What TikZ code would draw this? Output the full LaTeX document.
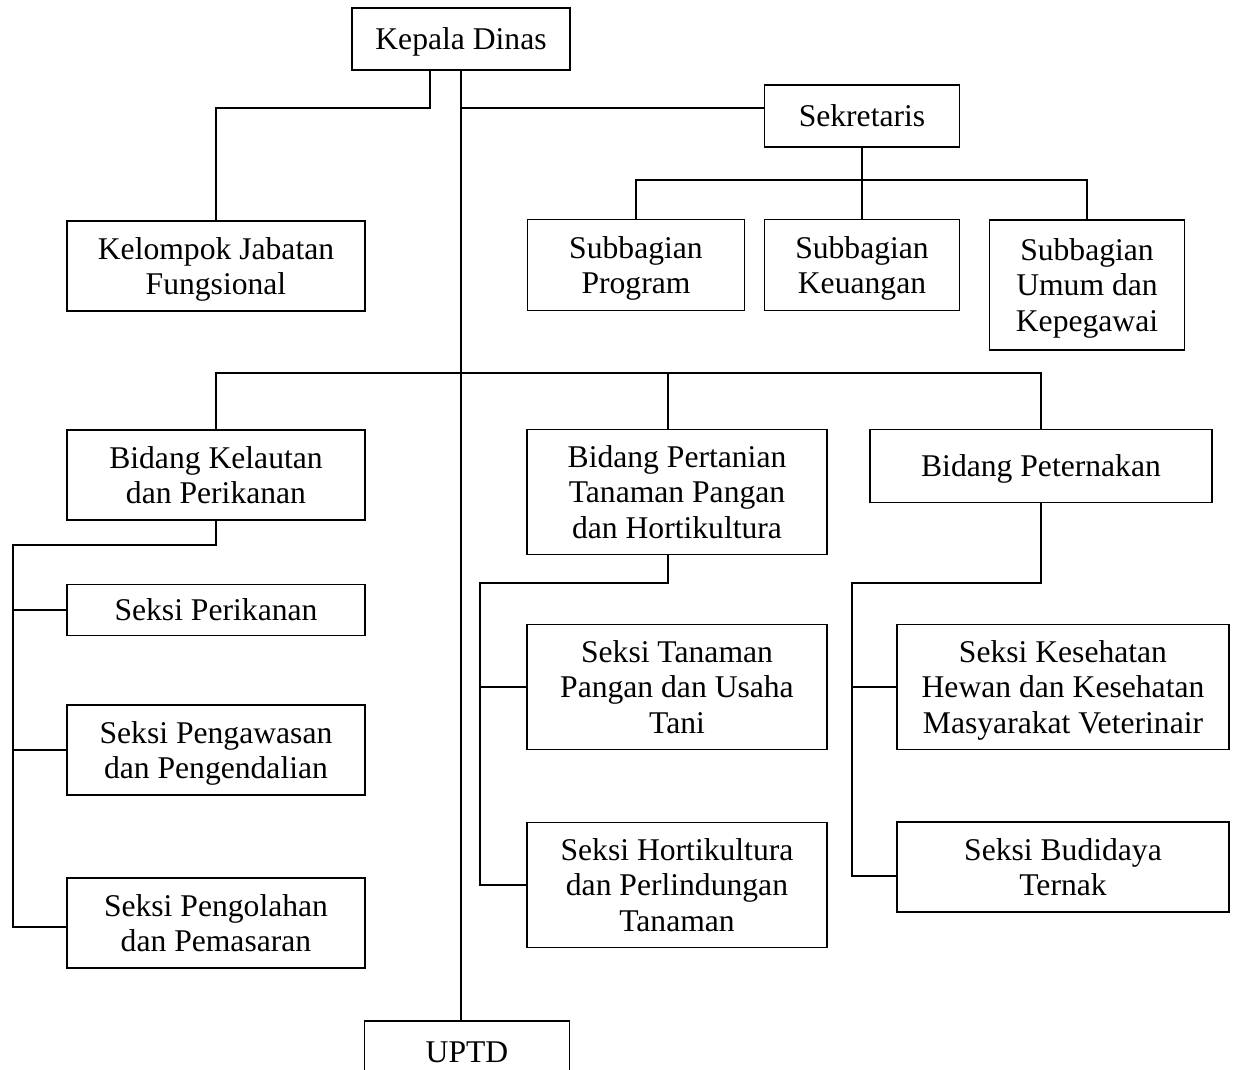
\documentclass[tikz,border=0pt]{standalone}
\usepackage{fontspec}
\setmainfont{Liberation Serif}
\begin{document}
\begin{tikzpicture}[x=0.02cm, y=-0.02cm, line width=1.1pt,
  unit/.style={draw, align=center, inner sep=2pt, text depth=-3pt,
    font=\fontsize{18}{20.3}\selectfont},
  oneline/.style={unit, text depth=0pt}]
\useasboundingbox (0,0) rectangle (1235,1070);
\clip (0,0) rectangle (1235,1070);
\node[oneline, minimum width=4.36cm, minimum height=1.24cm] (kadis) at (461,39) {Kepala Dinas};
\node[oneline, minimum width=3.9cm, minimum height=1.24cm] (sekre) at (862,116) {Sekretaris};
\node[unit, minimum width=5.96cm, minimum height=1.8cm] (kjf) at (216,266) {Kelompok Jabatan\\Fungsional};
\node[unit, minimum width=4.34cm, minimum height=1.82cm] (sprog) at (636,265) {Subbagian\\Program};
\node[unit, minimum width=3.9cm, minimum height=1.82cm] (skeu) at (862,265) {Subbagian\\Keuangan};
\node[unit, minimum width=3.9cm, minimum height=2.6cm] (sumum) at (1087,285) {Subbagian\\Umum dan\\Kepegawai};
\node[unit, minimum width=5.96cm, minimum height=1.8cm] (bkel) at (216,475) {Bidang Kelautan\\dan Perikanan};
\node[unit, minimum width=6cm, minimum height=2.5cm] (btan) at (677,492) {Bidang Pertanian\\Tanaman Pangan\\dan Hortikultura};
\node[oneline, minimum width=6.84cm, minimum height=1.46cm] (bter) at (1041,466) {Bidang Peternakan};
\node[oneline, minimum width=5.96cm, minimum height=1.02cm] (sperik) at (216,610) {Seksi Perikanan};
\node[unit, minimum width=5.96cm, minimum height=1.8cm] (sengaw) at (216,750) {Seksi Pengawasan\\dan Pengendalian};
\node[unit, minimum width=5.96cm, minimum height=1.8cm] (sengol) at (216,923) {Seksi Pengolahan\\dan Pemasaran};
\node[unit, minimum width=6cm, minimum height=2.5cm] (stanam) at (677,687) {Seksi Tanaman\\Pangan dan Usaha\\Tani};
\node[unit, minimum width=6cm, minimum height=2.5cm] (shorti) at (677,885) {Seksi Hortikultura\\dan Perlindungan\\Tanaman};
\node[unit, minimum width=6.64cm, minimum height=2.5cm] (skeswan) at (1063,687) {Seksi Kesehatan\\Hewan dan Kesehatan\\Masyarakat Veterinair};
\node[unit, minimum width=6.64cm, minimum height=1.8cm] (sbudi) at (1063,867) {Seksi Budidaya\\Ternak};
\node[oneline, minimum width=4.1cm, minimum height=1.24cm] (uptd) at (467,1052) {UPTD};
% kepala dinas
\coordinate (jkel) at (430,108);
\draw (kadis.south -| jkel) -- (jkel) -| (kjf.north);
\draw (kadis.south) -- (kadis.south |- uptd.north);
\draw (kadis.south |- jkel) -- (sekre.west |- jkel);
% sekretaris
\coordinate (jsek) at (862,180);
\draw (sekre.south) -- (jsek);
\draw (sprog.north) |- (jsek) -| (sumum.north);
\draw (jsek) -- (skeu.north);
% bidang
\coordinate (jbid) at (462,373);
\coordinate (tantop) at ([xshift=-0.18cm]btan.north);
\coordinate (tanbot) at ([xshift=-0.18cm]btan.south);
\draw (bkel.north) |- (jbid) -| (bter.north);
\draw (tantop) -- (tantop |- jbid);
% seksi
\coordinate (jkl) at (13,545);
\draw (bkel.south) |- (jkl) |- ([yshift=-0.08cm]sengol.west);
\draw (jkl |- sperik.west) -- (sperik.west);
\draw (jkl |- sengaw.west) -- (sengaw.west);
\coordinate (jtn) at (480,583);
\draw (tanbot) |- (jtn) |- (shorti.west);
\draw (jtn |- stanam.west) -- (stanam.west);
\coordinate (jtr) at (852,583);
\draw (bter.south) |- (jtr) |- ([yshift=-0.18cm]sbudi.west);
\draw (jtr |- skeswan.west) -- (skeswan.west);
\end{tikzpicture}
\end{document}
